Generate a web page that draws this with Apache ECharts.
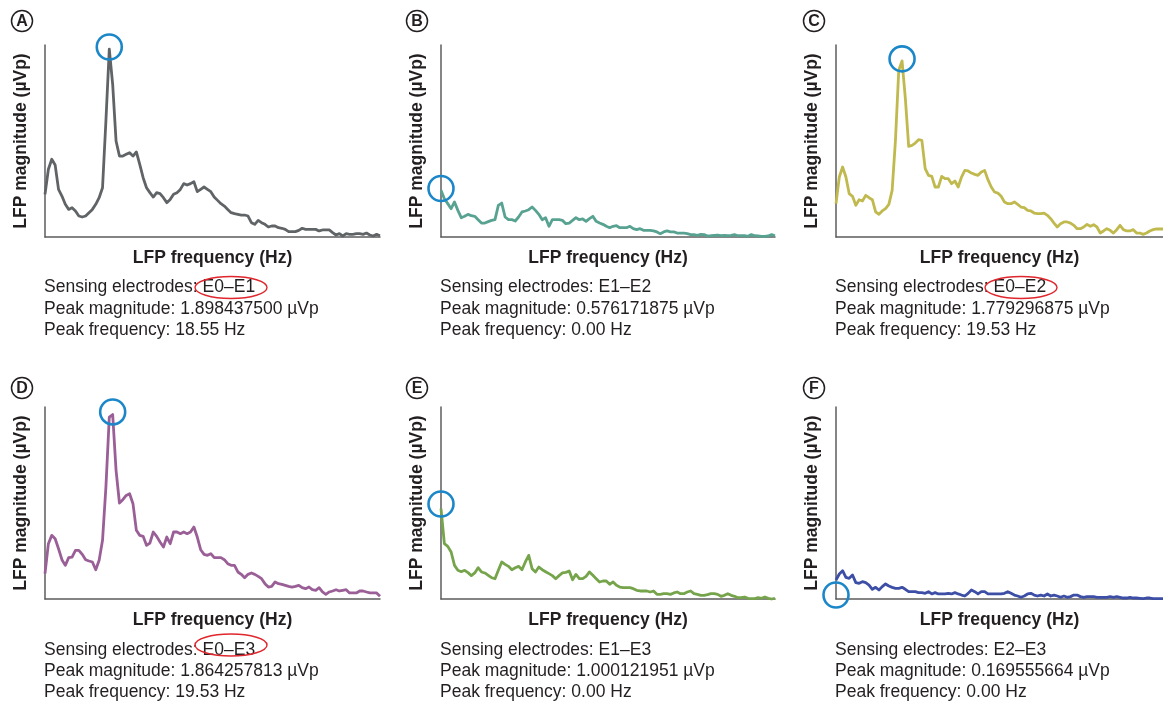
<!DOCTYPE html>
<html>
<head>
<meta charset="utf-8">
<script src="https://cdn.jsdelivr.net/npm/echarts@6/dist/echarts.min.js"></script>
<style>
html,body{margin:0;padding:0;background:#fff;}
#chart{width:1163px;height:702px;}
</style>
</head>
<body>
<div id="chart"></div>
<script>
// FFT bin width (Hz) of the LFP spectra
const binHz = 0.9765625;

const panelLetters = ['A', 'B', 'C', 'D', 'E', 'F'];
const electrodes = ['E0–E1', 'E1–E2', 'E0–E2', 'E0–E3', 'E1–E3', 'E2–E3'];
const peakMagText = ['1.898437500', '0.576171875', '1.779296875', '1.864257813', '1.000121951', '0.169555664'];
const peakFreqText = ['18.55', '0.00', '19.53', '19.53', '0.00', '0.00'];
const highlighted = [true, false, true, true, false, false];
// position of the blue peak circles as drawn (Hz, µVp)
const circleFreq = [18.55, 0.00, 19.53, 19.53, 0.00, 0.00];
const circleMag = [1.92, 0.49, 1.80, 1.89, 0.96, 0.04];
const seriesColors = ['#606466', '#58a291', '#c0b94e', '#9a5f96', '#75a44b', '#3c4ea5'];

// LFP magnitude (µVp) per frequency bin
const magA = [0.431,0.684,0.785,0.727,0.481,0.414,0.330,0.279,0.296,0.263,
0.212,0.202,0.212,0.246,0.279,0.330,0.397,0.498,1.172,1.898,
1.542,0.970,0.818,0.818,0.835,0.852,0.818,0.859,0.734,0.599,
0.498,0.448,0.404,0.448,0.438,0.397,0.347,0.380,0.431,0.448,
0.481,0.539,0.525,0.539,0.559,0.458,0.481,0.505,0.481,0.458,
0.404,0.370,0.337,0.313,0.279,0.246,0.236,0.229,0.222,0.222,
0.212,0.145,0.128,0.168,0.145,0.128,0.101,0.111,0.111,0.094,
0.088,0.077,0.054,0.054,0.054,0.067,0.088,0.077,0.077,0.077,
0.077,0.061,0.071,0.071,0.071,0.044,0.020,0.034,0.010,0.034,
0.027,0.027,0.034,0.034,0.027,0.040,0.020,0.010,0.027,0.013];

const magB = [0.471,0.387,0.337,0.286,0.354,0.269,0.195,0.209,0.229,0.215,
0.209,0.175,0.141,0.141,0.155,0.168,0.175,0.320,0.343,0.202,
0.175,0.175,0.162,0.202,0.253,0.263,0.276,0.303,0.269,0.229,
0.175,0.195,0.108,0.175,0.175,0.175,0.168,0.135,0.141,0.168,
0.195,0.175,0.182,0.158,0.185,0.209,0.158,0.141,0.128,0.108,
0.094,0.108,0.114,0.094,0.094,0.094,0.108,0.084,0.074,0.084,
0.067,0.067,0.067,0.061,0.051,0.034,0.051,0.061,0.051,0.051,
0.040,0.040,0.040,0.034,0.024,0.024,0.017,0.027,0.024,0.010,
0.013,0.017,0.020,0.013,0.017,0.013,0.017,0.024,0.013,0.013,
0.013,0.007,0.024,0.013,0.010,0.007,0.007,0.010,0.024,0.013];

const magC = [0.337,0.606,0.707,0.606,0.438,0.411,0.320,0.377,0.364,0.421,
0.397,0.377,0.253,0.229,0.263,0.286,0.330,0.471,0.976,1.684,
1.779,1.397,0.916,0.926,0.949,0.983,0.976,0.690,0.623,0.613,
0.505,0.505,0.613,0.589,0.589,0.539,0.566,0.505,0.606,0.673,
0.667,0.646,0.633,0.623,0.657,0.673,0.579,0.505,0.455,0.444,
0.411,0.354,0.337,0.337,0.354,0.330,0.303,0.296,0.269,0.263,
0.242,0.236,0.236,0.242,0.219,0.185,0.141,0.101,0.135,0.152,
0.152,0.141,0.118,0.084,0.084,0.101,0.128,0.108,0.125,0.101,
0.040,0.061,0.084,0.067,0.040,0.074,0.118,0.074,0.061,0.061,
0.074,0.040,0.040,0.027,0.040,0.061,0.074,0.081,0.081,0.081];

const magD = [0.256,0.559,0.643,0.609,0.508,0.397,0.340,0.418,0.424,0.492,
0.492,0.451,0.397,0.384,0.374,0.296,0.391,0.593,1.131,1.838,
1.864,1.300,0.970,1.003,1.047,1.064,0.963,0.694,0.643,0.633,
0.542,0.566,0.677,0.633,0.576,0.525,0.626,0.559,0.677,0.677,
0.660,0.677,0.660,0.677,0.727,0.626,0.498,0.451,0.441,0.458,
0.418,0.418,0.418,0.397,0.357,0.340,0.340,0.273,0.249,0.215,
0.249,0.263,0.249,0.229,0.205,0.155,0.121,0.128,0.172,0.155,
0.148,0.138,0.128,0.121,0.128,0.138,0.114,0.104,0.121,0.094,
0.088,0.114,0.071,0.047,0.071,0.081,0.094,0.081,0.088,0.094,
0.061,0.061,0.061,0.081,0.081,0.071,0.061,0.061,0.061,0.027];

const magE = [0.912,0.559,0.532,0.475,0.340,0.290,0.276,0.290,0.266,0.236,
0.263,0.316,0.273,0.263,0.239,0.215,0.205,0.290,0.374,0.350,
0.330,0.296,0.316,0.330,0.296,0.374,0.441,0.306,0.273,0.323,
0.296,0.276,0.256,0.236,0.205,0.236,0.263,0.269,0.283,0.195,
0.249,0.205,0.205,0.229,0.273,0.239,0.205,0.172,0.182,0.182,
0.148,0.172,0.138,0.121,0.114,0.114,0.114,0.104,0.088,0.081,
0.081,0.081,0.071,0.081,0.047,0.047,0.054,0.054,0.047,0.061,
0.071,0.054,0.054,0.071,0.081,0.054,0.047,0.037,0.037,0.044,
0.054,0.054,0.047,0.027,0.037,0.054,0.037,0.027,0.013,0.013,
0.020,0.007,0.003,0.003,0.013,0.007,0.020,0.007,0.000,0.007];

const magF = [0.192,0.253,0.286,0.219,0.209,0.242,0.165,0.158,0.175,0.165,
0.141,0.098,0.118,0.091,0.125,0.152,0.131,0.118,0.108,0.108,
0.118,0.098,0.074,0.074,0.074,0.064,0.064,0.057,0.074,0.051,
0.064,0.051,0.051,0.051,0.057,0.051,0.064,0.051,0.040,0.030,
0.057,0.091,0.074,0.051,0.074,0.074,0.051,0.051,0.051,0.051,
0.051,0.057,0.074,0.057,0.040,0.030,0.017,0.030,0.051,0.057,
0.040,0.030,0.040,0.030,0.051,0.030,0.040,0.030,0.017,0.030,
0.017,0.024,0.040,0.040,0.024,0.017,0.024,0.024,0.024,0.017,
0.017,0.017,0.017,0.024,0.017,0.024,0.017,0.010,0.010,0.017,
0.010,0.010,0.007,0.003,0.010,0.010,0.003,0.003,0.003,0.003];

const magnitudes = [magA, magB, magC, magD, magE, magF];

// ---------- layout ----------
const FONT = '"Liberation Sans", Arial, Helvetica, sans-serif';
const colLeft = [45, 441, 836];
const colWidth = [335, 334, 330];
const rowTop = [45, 407];
const plotH = 192;
const textX = [44, 440, 835];
const letterCX = [22, 417, 814];
const letterCY = [21, 388];
const infoY = [[287.5, 309, 330], [650, 671.5, 692.5]];
const ellipseCX = [231, 0, 1021];
const ellipseCY = [287.5, 645];
const Y_MAX = 1.94;
const X_MAX = 99 * binHz;

const grids = [], xAxes = [], yAxes = [], series = [], graphics = [];
for (let p = 0; p < 6; p++) {
  const col = p % 3, row = Math.floor(p / 3);
  grids.push({left: colLeft[col], top: rowTop[row], width: colWidth[col], height: plotH, containLabel: false});
  const axisLine = {show: true, onZero: false, lineStyle: {color: '#5c5c5c', width: 1.5}};
  xAxes.push({
    gridIndex: p, type: 'value', min: 0, max: X_MAX,
    axisLine, axisTick: {show: false}, axisLabel: {show: false}, splitLine: {show: false},
    name: 'LFP frequency (Hz)', nameLocation: 'middle', nameGap: 12,
    nameTextStyle: {fontFamily: FONT, fontSize: 17.5, fontWeight: 'bold', color: '#231f20', verticalAlign: 'top'}
  });
  yAxes.push({
    gridIndex: p, type: 'value', min: 0, max: Y_MAX,
    axisLine, axisTick: {show: false}, axisLabel: {show: false}, splitLine: {show: false},
    name: 'LFP magnitude (µVp)', nameLocation: 'middle', nameGap: 15, nameRotate: 90,
    nameTextStyle: {fontFamily: FONT, fontSize: 17.5, fontWeight: 'bold', color: '#231f20'}
  });
  series.push({
    type: 'line', xAxisIndex: p, yAxisIndex: p,
    data: magnitudes[p].map((v, i) => [i * binHz, v]),
    showSymbol: false, symbol: 'none', smooth: false,
    lineStyle: {color: seriesColors[p], width: 2.8, join: 'round'},
    itemStyle: {color: seriesColors[p]},
    clip: false,
    markPoint: {
      silent: true, symbol: 'circle', symbolSize: 25,
      itemStyle: {color: 'rgba(0,0,0,0)', borderColor: '#1b87c9', borderWidth: 2.6},
      label: {show: false},
      data: [{coord: [circleFreq[p], circleMag[p]]}]
    }
  });

  // circled panel letter
  graphics.push({type: 'circle', shape: {cx: letterCX[col], cy: letterCY[row], r: 10.5},
    style: {fill: '#fff', stroke: '#231f20', lineWidth: 1.5}, silent: true});
  graphics.push({type: 'text', x: letterCX[col], y: letterCY[row] + 0.5,
    style: {text: panelLetters[p], font: 'bold 16px ' + FONT, fill: '#231f20', align: 'center', verticalAlign: 'middle'}, silent: true});

  // info lines
  const lines = [
    'Sensing electrodes: ' + electrodes[p],
    'Peak magnitude: ' + peakMagText[p] + ' µVp',
    'Peak frequency: ' + peakFreqText[p] + ' Hz'
  ];
  lines.forEach((t, k) => {
    graphics.push({type: 'text', x: textX[col], y: infoY[row][k],
      style: {text: t, font: '17.5px ' + FONT, fill: '#231f20', align: 'left', verticalAlign: 'middle'}, silent: true});
  });

  // red ellipse highlighting the electrode pair
  if (highlighted[p]) {
    graphics.push({type: 'ellipse', shape: {cx: ellipseCX[col], cy: ellipseCY[row], rx: 36, ry: 11},
      style: {fill: 'none', stroke: '#e0262d', lineWidth: 1.4}, silent: true});
  }
}

const chart = echarts.init(document.getElementById('chart'), null, {renderer: 'canvas'});
chart.setOption({
  animation: false,
  backgroundColor: '#ffffff',
  grid: grids, xAxis: xAxes, yAxis: yAxes, series: series,
  graphic: graphics
});
</script>
</body>
</html>
